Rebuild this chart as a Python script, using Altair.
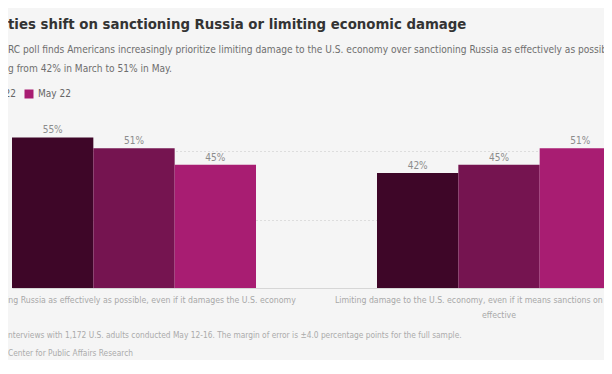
import altair as alt
import pandas as pd

# ---- data ----
categories = [
    "Sanctioning Russia as effectively as possible, even if it damages the U.S. economy",
    "Limiting damage to the U.S. economy, even if it means sanctions on Russia are less effective",
]
category_lines = [
    ["Sanctioning Russia as effectively as possible, even if it damages the U.S. economy"],
    ["Limiting damage to the U.S. economy, even if it means sanctions on Russia are less", "effective"],
]
series = ["Mar 22", "Apr 22", "May 22"]
values_sanction = [55, 51, 45]
values_limit = [42, 45, 51]
colors = ["#3e0628", "#751450", "#a81d72"]

title_text = "ties shift on sanctioning Russia or limiting economic damage"
subtitle_lines = [
    "RC poll finds Americans increasingly prioritize limiting damage to the U.S. economy over sanctioning Russia as effectively as possible fo",
    "g from 42% in March to 51% in May.",
]
footnote_lines = [
    "nterviews with 1,172 U.S. adults conducted May 12-16. The margin of error is \u00b14.0 percentage points for the full sample.",
    "Center for Public Affairs Research",
]

FONT = "Liberation Sans Narrow, DejaVu Sans Condensed, Roboto, sans-serif"

rows = []
for cat, vals in zip(categories, [values_sanction, values_limit]):
    for s, v in zip(series, vals):
        rows.append({"category": cat, "series": s, "value": v})
df = pd.DataFrame(rows)

# label expression for wrapped category labels
parts = []
for cat, lines in zip(categories, category_lines):
    arr = "[" + ",".join("'" + l + "'" for l in lines) + "]"
    parts.append(f"datum.value == '{cat}' ? {arr} : ")
label_expr = "".join(parts) + "datum.label"

x_enc = alt.X(
    "category:N",
    sort=categories,
    scale=alt.Scale(range=[4, 613], paddingInner=0.3315, paddingOuter=0),
    axis=alt.Axis(
        title=None, labelAngle=0, ticks=False, domainColor="#d6d6d6",
        labelColor="#a8a8a8", labelFont=FONT, labelFontSize=8.7,
        labelLimit=1000, labelPadding=7.5, labelLineHeight=15,
        labelExpr=label_expr, labelOverlap=False,
    ),
)
xoff_enc = alt.XOffset("series:N", sort=series,
                       scale=alt.Scale(paddingInner=0, paddingOuter=0))
y_enc = alt.Y(
    "value:Q",
    scale=alt.Scale(domain=[0, 65], nice=False),
    axis=alt.Axis(title=None, values=[25, 50], labels=False, ticks=False,
                  domain=False, gridColor="#c4c4c4", gridDash=[1, 3]),
)

base = alt.Chart(df)

bars = base.mark_bar().encode(
    x=x_enc,
    xOffset=xoff_enc,
    y=y_enc,
    color=alt.Color(
        "series:N", sort=series,
        scale=alt.Scale(domain=series, range=colors),
        legend=alt.Legend(
            title=None, orient="none", legendX=-90, legendY=-21,
            direction="horizontal", symbolType="square", symbolSize=81,
            symbolStrokeWidth=0, labelFont=FONT, labelFontSize=10,
            labelColor="#666666", columnPadding=8, labelOffset=4,
        ),
    ),
)

labels = base.transform_calculate(lbl="datum.value + '%'").mark_text(
    baseline="bottom", dy=-2, font=FONT, fontSize=10, color="#8c8c8c"
).encode(x=x_enc, xOffset=xoff_enc, y=y_enc, text="lbl:N")

foot = alt.Chart(pd.DataFrame({"k": [0]})).mark_text(
    text=footnote_lines, align="left", baseline="top", lineHeight=18,
    font=FONT, fontSize=8.3, color="#ababab",
).encode(x=alt.value(0), y=alt.value(221))

chart = alt.layer(bars, labels, foot).properties(
    width=596,
    height=178,
    title=alt.Title(
        title_text, subtitle=subtitle_lines, anchor="start", frame="group",
        font=FONT, fontSize=14.8, fontWeight="bold", color="#333333",
        subtitleFont=FONT, subtitleFontSize=10.1, subtitleColor="#6e6e6e",
        subtitleLineHeight=18.5, subtitlePadding=14, offset=15,
    ),
    autosize=alt.AutoSizeParams(type="none"),
    padding={"left": 0, "top": 102, "right": 0, "bottom": 72},
    background="#f5f5f5",
).configure_view(stroke=None)

chart.save("out.html", embed_options={"renderer": "svg", "actions": False})
